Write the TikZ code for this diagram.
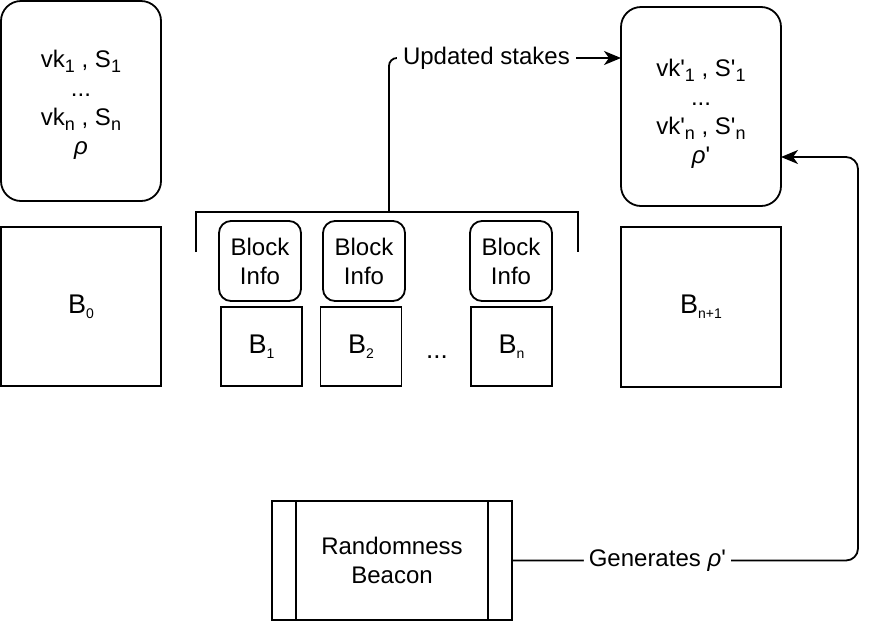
\documentclass[tikz,border=0pt]{standalone}
\usepackage{fontspec}
\newfontfamily\dfont{Liberation Sans}
\usetikzlibrary{arrows.meta,calc}
\newcommand\bsub[1]{\raisebox{-0.22em}{\fontsize{18}{18}\selectfont #1}}
\newcommand\ssub[1]{\raisebox{-0.2em}{\fontsize{14}{14}\selectfont #1}}
\tikzset{arr/.style={-{Stealth[length=17pt,width=14pt,inset=5pt]}}}
\begin{document}
\begin{tikzpicture}[x=1pt,y=-1pt,line width=1.8pt,
  font=\dfont\fontsize{24}{29}\selectfont,
  every node/.style={inner sep=0pt,outer sep=0pt,align=center},
  bigbox/.style={draw,fill=white,rounded corners=20pt,minimum width=160pt,minimum height=200pt},
  blkbox/.style={draw,fill=white,minimum width=81pt,minimum height=79pt,font=\dfont\fontsize{27}{30}\selectfont},
  infobox/.style={draw,fill=white,rounded corners=12pt,minimum width=82pt,minimum height=80pt},
  lbl/.style={fill=white,inner xsep=6pt,inner ysep=3pt}]
\fill[white] (0,0) rectangle (878,622);
\useasboundingbox (0,0) rectangle (878,622);
% stake distribution boxes
\node[bigbox] (st0) at (81,101) {};
\node (st0t) at (81,105) {vk\bsub{1} , S\bsub{1}\\...\\vk\bsub{n} , S\bsub{n}\\{\itshape ρ}};
\node[bigbox,minimum height=199pt] (st1) at (701,106.5) {};
\node (st1t) at (701,114) {vk'\bsub{1} , S'\bsub{1}\\...\\vk'\bsub{n} , S'\bsub{n}\\{\itshape ρ}'};
% genesis and next blocks
\node[draw,fill=white,minimum width=160pt,minimum height=159pt,font=\dfont\fontsize{27}{30}\selectfont] (b0) at (81,306.5) {B\ssub{0}};
\node[draw,fill=white,minimum width=160pt,minimum height=160pt,font=\dfont\fontsize{27}{30}\selectfont] (bn1) at (701,307) {B\ssub{n+1}};
% block info
\node[infobox] (i1) at (260,261) {Block\\Info};
\node[infobox] (i2) at (364,261) {Block\\Info};
\node[infobox] (i3) at (511,261) {Block\\Info};
% blocks
\node[blkbox] (b1) at (261.5,346.5) {B\ssub{1}};
\node[blkbox] (b2) at (361,346.5) {B\ssub{2}};
\node[blkbox] (bn) at (511.5,346.5) {B\ssub{n}};
\node[anchor=base,font=\dfont\fontsize{26}{30}\selectfont] (dots) at (437,358) {...};
% bracket
\coordinate (bl) at (196,252);
\coordinate (br) at (578,252);
\coordinate (bm) at (389,212);
\draw (bl) -- (bl |- bm) -- (br |- bm) -- (br);
\draw[arr,rounded corners=8pt] (bm) |- node[lbl,pos=0.71] {Updated stakes} (st1.west |- 0,58);
% randomness beacon
\node[draw,fill=white,minimum width=240pt,minimum height=119pt] (rb) at (392,560.5) {Randomness\\Beacon};
\draw ([xshift=24pt]rb.north west) -- ([xshift=24pt]rb.south west);
\draw ([xshift=-24pt]rb.north east) -- ([xshift=-24pt]rb.south east);
\coordinate (gc) at (858,157);
\draw[arr,rounded corners=12pt] (rb.east) -| node[lbl,pos=0.21,inner xsep=5pt] {Generates {\itshape ρ}'} (gc) -- (st1.east |- gc);
\end{tikzpicture}
\end{document}
